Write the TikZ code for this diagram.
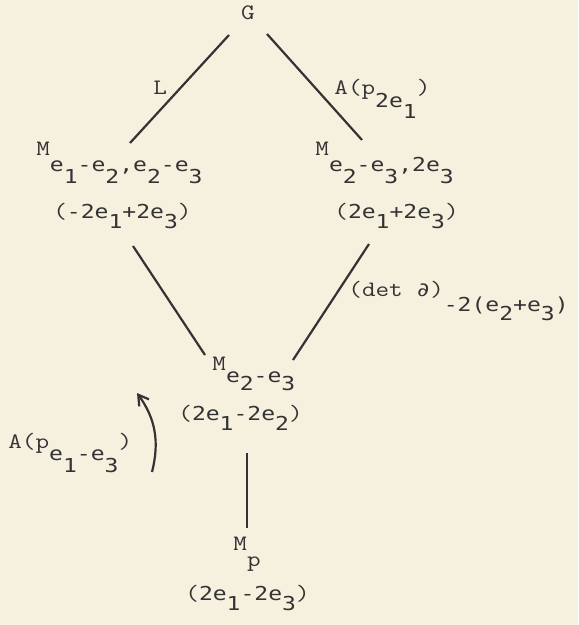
\documentclass[tikz,border=0pt]{standalone}
\usepackage{fontspec}
\usepackage{xcolor}
\usepackage{graphicx}
\usetikzlibrary{arrows.meta,calc,positioning}

\newfontfamily\mtfont{DejaVu Sans Mono}
\newcommand\twf{\ttfamily\fontsize{11pt}{12pt}\selectfont\addfontfeature{FakeBold=1.5}}
\newcommand\mtf{\mtfont\fontsize{9.6pt}{11pt}\selectfont}
\newcommand\lowr[2][6pt]{\raisebox{-#1}{#2}}
\newcommand\widen[1]{\scalebox{1.2}[1]{#1}}

\definecolor{paper}{HTML}{F6F0DF}
\definecolor{ink}{HTML}{333333}

\begin{document}
\begin{tikzpicture}[
    x=0.5pt, y=-0.5pt,
    lbl/.style={anchor=base west, inner sep=0pt, text=ink},
    edge/.style={draw=ink, line width=1.1pt},
    arrow/.style={->, >={Straight Barb[length=5pt,width=6pt]}, line width=1.1pt, draw=ink}
]

% paper
\fill[paper] (0,0) rectangle (578,625);
\useasboundingbox (0,0) rectangle (578,625);

% Top
\node[lbl, anchor=base] (G) at (248,20) {\widen{\twf G}};

% Second row
\node[lbl] (mL) at (36,156) {\widen{\twf M\lowr[8pt]{\mtf e\lowr{1}-e\lowr{2},e\lowr{2}-e\lowr{3}}}};
\node[lbl] (wL) at (53,219) {\widen{\twf(\mtf-2e\lowr[5pt]{1}+2e\lowr[5pt]{3}\twf)}};
\node[lbl] (mR) at (315,156) {\widen{\twf M\lowr[8pt]{\mtf e\lowr{2}-e\lowr{3},2e\lowr{3}}}};
\node[lbl] (wR) at (334,219) {\widen{\twf(\mtf 2e\lowr[5pt]{1}+2e\lowr[5pt]{3}\twf)}};

% Middle
\node[lbl] (mM) at (212,370) {\widen{\twf M\lowr{\mtf e\lowr[4pt]{2}-e\lowr[4pt]{3}}}};
\node[lbl] (wM) at (178,420) {\widen{\twf(\mtf 2e\lowr[5pt]{1}-2e\lowr[5pt]{2}\twf)}};

% Bottom
\node[lbl] (mP) at (233,550) {\widen{\twf M\lowr[8pt]{p}}};
\node[lbl] (wP) at (185,600) {\widen{\twf(\mtf 2e\lowr[5pt]{1}-2e\lowr[5pt]{3}\twf)}};

% Edge labels
\node[lbl] (lL) at (153,95) {\widen{\twf L}};
\node[lbl] (lA) at (334,95) {\widen{\twf A(p\lowr[6.5pt]{\mtf 2e\lowr[5.5pt]{1}}\twf)}};
\node[lbl] (lD) at (348,296) {\widen{\twf(det {\mtf ∂})\lowr[7.5pt]{\mtf -2(e\lowr[4.5pt]{2}+e\lowr[4.5pt]{3})}}};
\node[lbl] (lP) at (8,448) {\widen{\twf A(p\lowr{\mtf e\lowr{1}-e\lowr{3}}\twf)}};

% Lines
\draw[edge] ($(G.base)+(-19,15)$) -- ($(mL.base west)+(94,-13)$);
\draw[edge] ($(G.base)+(19,14)$) -- ($(mR.base west)+(47,-16)$);
\draw[edge] ($(wL.base west)+(80,27)$) -- ($(mM.base west)+(-7,-15)$);
\draw[edge] ($(wR.base west)+(35,25)$) -- ($(mM.base west)+(81,-10)$);
\draw[edge] ($(wM.base west)+(69,33)$) -- ($(mP.base west)+(14,-22)$);
\draw[arrow] ($(lP.base west)+(144,24)$) to[bend right=25] ($(lP.base west)+(129,-55)$);

\end{tikzpicture}
\end{document}
